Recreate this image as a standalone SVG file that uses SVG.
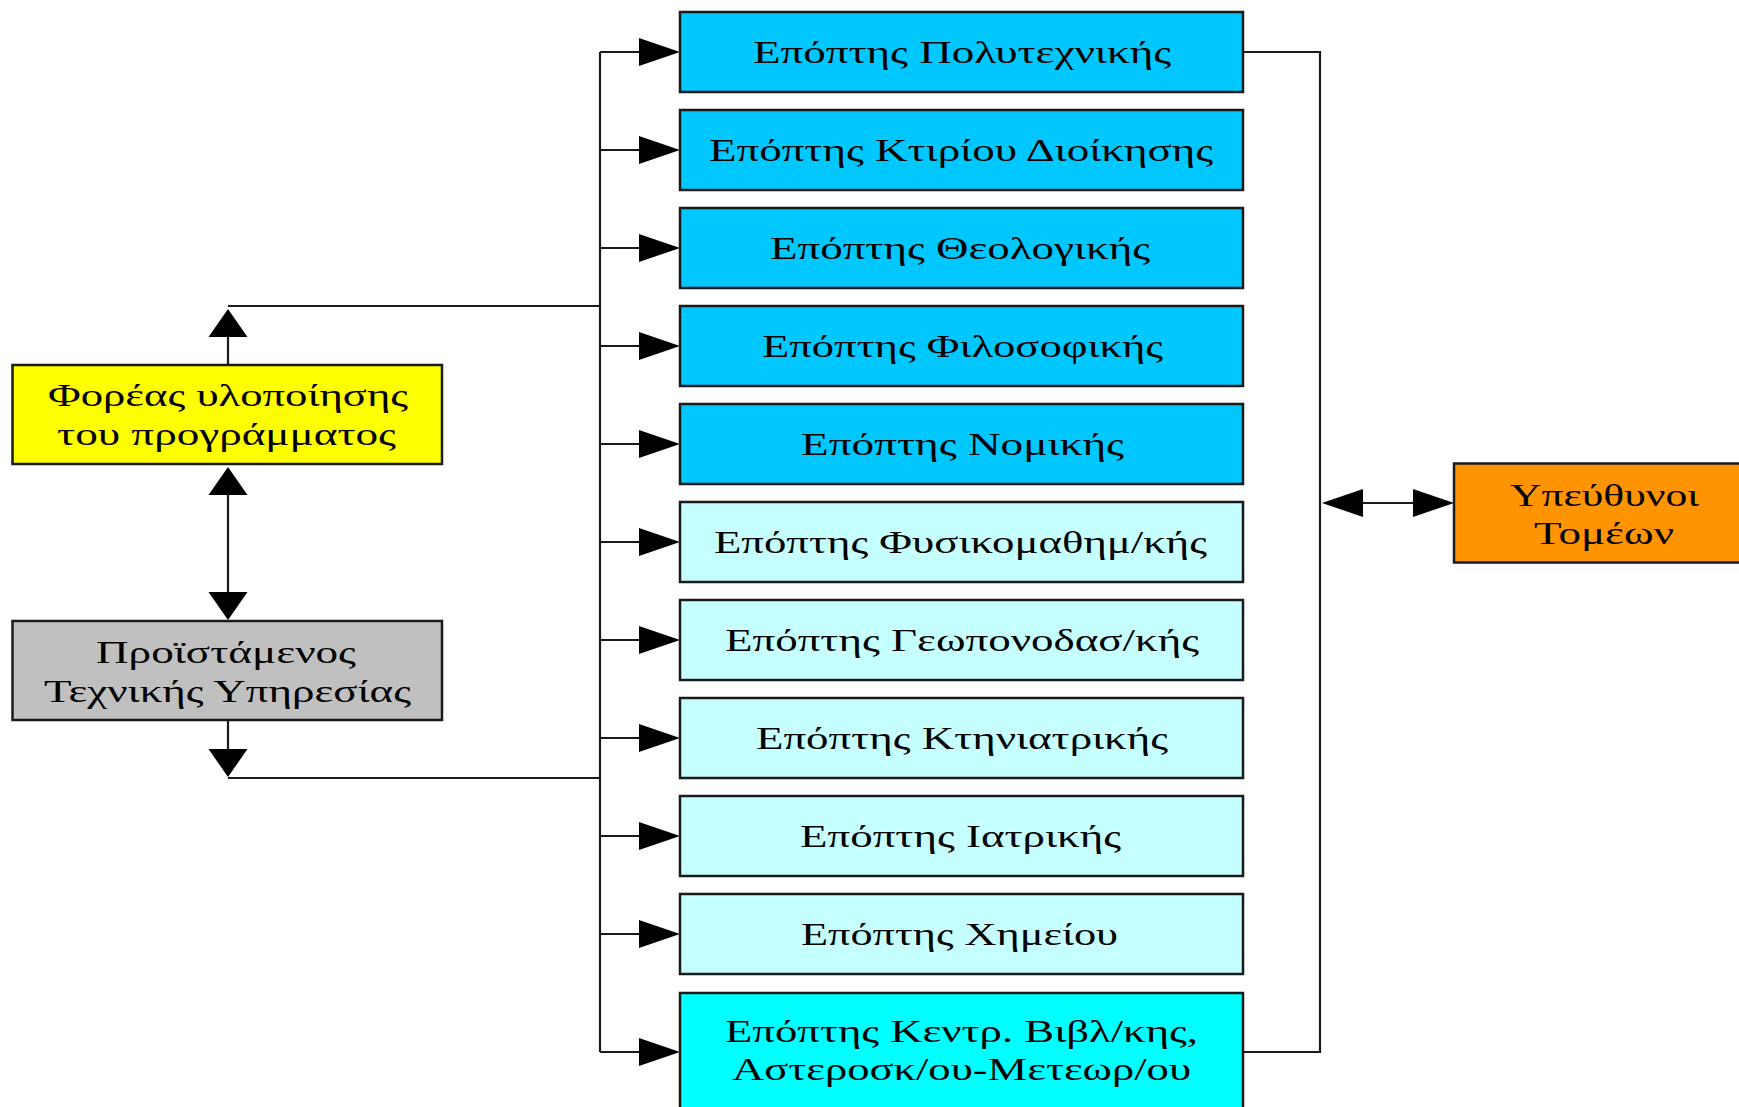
<svg xmlns="http://www.w3.org/2000/svg" xmlns:xlink="http://www.w3.org/1999/xlink" width="1739" height="1107" viewBox="0 0 1739 1107">
<style>
  .box { stroke: #1a1a1a; stroke-width: 2.5; }
  .dark { fill: #00C8FF; }
  .light { fill: #C6FFFF; }
  .cyan { fill: #00FFFF; }
  .t { font-family: "Liberation Serif", "DejaVu Serif", serif; font-size: 32px; fill: #000; }
  .ln { stroke: #1a1a1a; stroke-width: 2.2; fill: none; }
  .ah { fill: #000; }
</style>
<defs>
  <polygon id="ar" class="ah" points="0,0 -41,-14 -41,14"/>
  <polygon id="al" class="ah" points="0,0 41,-14 41,14"/>
  <polygon id="au" class="ah" points="0,0 -19.5,28 19.5,28"/>
  <polygon id="ad" class="ah" points="0,0 -19.5,-28 19.5,-28"/>
</defs>
<rect width="1739" height="1107" fill="#ffffff"/>

<g id="connectors">
  <!-- left bus -->
  <line class="ln" x1="600" y1="52" x2="600" y2="1052"/>
  <!-- branches -->
  <line class="ln" x1="600" y1="52" x2="640" y2="52"/>
  <line class="ln" x1="600" y1="150" x2="640" y2="150"/>
  <line class="ln" x1="600" y1="248" x2="640" y2="248"/>
  <line class="ln" x1="600" y1="346" x2="640" y2="346"/>
  <line class="ln" x1="600" y1="444" x2="640" y2="444"/>
  <line class="ln" x1="600" y1="542" x2="640" y2="542"/>
  <line class="ln" x1="600" y1="640" x2="640" y2="640"/>
  <line class="ln" x1="600" y1="738" x2="640" y2="738"/>
  <line class="ln" x1="600" y1="836" x2="640" y2="836"/>
  <line class="ln" x1="600" y1="934" x2="640" y2="934"/>
  <line class="ln" x1="600" y1="1052" x2="640" y2="1052"/>
  <use xlink:href="#ar" x="680" y="52"/>
  <use xlink:href="#ar" x="680" y="150"/>
  <use xlink:href="#ar" x="680" y="248"/>
  <use xlink:href="#ar" x="680" y="346"/>
  <use xlink:href="#ar" x="680" y="444"/>
  <use xlink:href="#ar" x="680" y="542"/>
  <use xlink:href="#ar" x="680" y="640"/>
  <use xlink:href="#ar" x="680" y="738"/>
  <use xlink:href="#ar" x="680" y="836"/>
  <use xlink:href="#ar" x="680" y="934"/>
  <use xlink:href="#ar" x="680" y="1052"/>
  <!-- left side links -->
  <polyline class="ln" points="600,306 228,306"/>
  <line class="ln" x1="228" y1="365" x2="228" y2="330"/>
  <use xlink:href="#au" x="228" y="309"/>
  <line class="ln" x1="228" y1="490" x2="228" y2="595"/>
  <use xlink:href="#au" x="228" y="467"/>
  <use xlink:href="#ad" x="228" y="620"/>
  <line class="ln" x1="228" y1="720" x2="228" y2="752"/>
  <use xlink:href="#ad" x="228" y="777"/>
  <polyline class="ln" points="228,778 600,778"/>
  <!-- right bus -->
  <polyline class="ln" points="1243,52 1320,52 1320,1052 1243,1052"/>
  <line class="ln" x1="1358" y1="503" x2="1416" y2="503"/>
  <use xlink:href="#al" x="1322" y="503"/>
  <use xlink:href="#ar" x="1454" y="503"/>
</g>

<g id="foreas">
  <rect class="box" x="12.5" y="365" width="429.5" height="99" fill="#FFFF00"/>
  <text class="t" x="48" y="406" textLength="360" lengthAdjust="spacingAndGlyphs">Φορέας υλοποίησης</text>
  <text class="t" x="57" y="445" textLength="339" lengthAdjust="spacingAndGlyphs">του προγράμματος</text>
</g>

<g id="proistamenos">
  <rect class="box" x="12.5" y="621" width="429.5" height="99" fill="#C0C0C0"/>
  <text class="t" x="96" y="663" textLength="260" lengthAdjust="spacingAndGlyphs">Προϊστάμενος</text>
  <text class="t" x="44" y="702" textLength="367" lengthAdjust="spacingAndGlyphs">Τεχνικής Υπηρεσίας</text>
</g>

<g id="ypeythynoi">
  <rect class="box" x="1454" y="463.5" width="300" height="99" fill="#FF9400"/>
  <text class="t" x="1510" y="506" textLength="189" lengthAdjust="spacingAndGlyphs">Υπεύθυνοι</text>
  <text class="t" x="1534" y="544" textLength="140" lengthAdjust="spacingAndGlyphs">Τομέων</text>
</g>

<g id="b1">
  <rect class="box dark" x="680" y="12" width="563" height="80"/>
  <text class="t" x="753" y="63" textLength="418" lengthAdjust="spacingAndGlyphs">Επόπτης Πολυτεχνικής</text>
</g>
<g id="b2">
  <rect class="box dark" x="680" y="110" width="563" height="80"/>
  <text class="t" x="709" y="161" textLength="504" lengthAdjust="spacingAndGlyphs">Επόπτης Κτιρίου Διοίκησης</text>
</g>
<g id="b3">
  <rect class="box dark" x="680" y="208" width="563" height="80"/>
  <text class="t" x="770" y="259" textLength="380" lengthAdjust="spacingAndGlyphs">Επόπτης Θεολογικής</text>
</g>
<g id="b4">
  <rect class="box dark" x="680" y="306" width="563" height="80"/>
  <text class="t" x="762" y="357" textLength="401" lengthAdjust="spacingAndGlyphs">Επόπτης Φιλοσοφικής</text>
</g>
<g id="b5">
  <rect class="box dark" x="680" y="404" width="563" height="80"/>
  <text class="t" x="801" y="455" textLength="323" lengthAdjust="spacingAndGlyphs">Επόπτης Νομικής</text>
</g>
<g id="b6">
  <rect class="box light" x="680" y="502" width="563" height="80"/>
  <text class="t" x="714" y="553" textLength="493" lengthAdjust="spacingAndGlyphs">Επόπτης Φυσικομαθημ/κής</text>
</g>
<g id="b7">
  <rect class="box light" x="680" y="600" width="563" height="80"/>
  <text class="t" x="725" y="651" textLength="474" lengthAdjust="spacingAndGlyphs">Επόπτης Γεωπονοδασ/κής</text>
</g>
<g id="b8">
  <rect class="box light" x="680" y="698" width="563" height="80"/>
  <text class="t" x="756" y="749" textLength="412" lengthAdjust="spacingAndGlyphs">Επόπτης Κτηνιατρικής</text>
</g>
<g id="b9">
  <rect class="box light" x="680" y="796" width="563" height="80"/>
  <text class="t" x="800" y="847" textLength="321" lengthAdjust="spacingAndGlyphs">Επόπτης Ιατρικής</text>
</g>
<g id="b10">
  <rect class="box light" x="680" y="894" width="563" height="80"/>
  <text class="t" x="801" y="945" textLength="317" lengthAdjust="spacingAndGlyphs">Επόπτης Χημείου</text>
</g>
<g id="b11">
  <rect class="box cyan" x="680" y="993" width="563" height="122"/>
  <text class="t" x="725" y="1042" textLength="473" lengthAdjust="spacingAndGlyphs">Επόπτης Κεντρ. Βιβλ/κης,</text>
  <text class="t" x="732" y="1080" textLength="459" lengthAdjust="spacingAndGlyphs">Αστεροσκ/ου-Μετεωρ/ου</text>
</g>
</svg>
